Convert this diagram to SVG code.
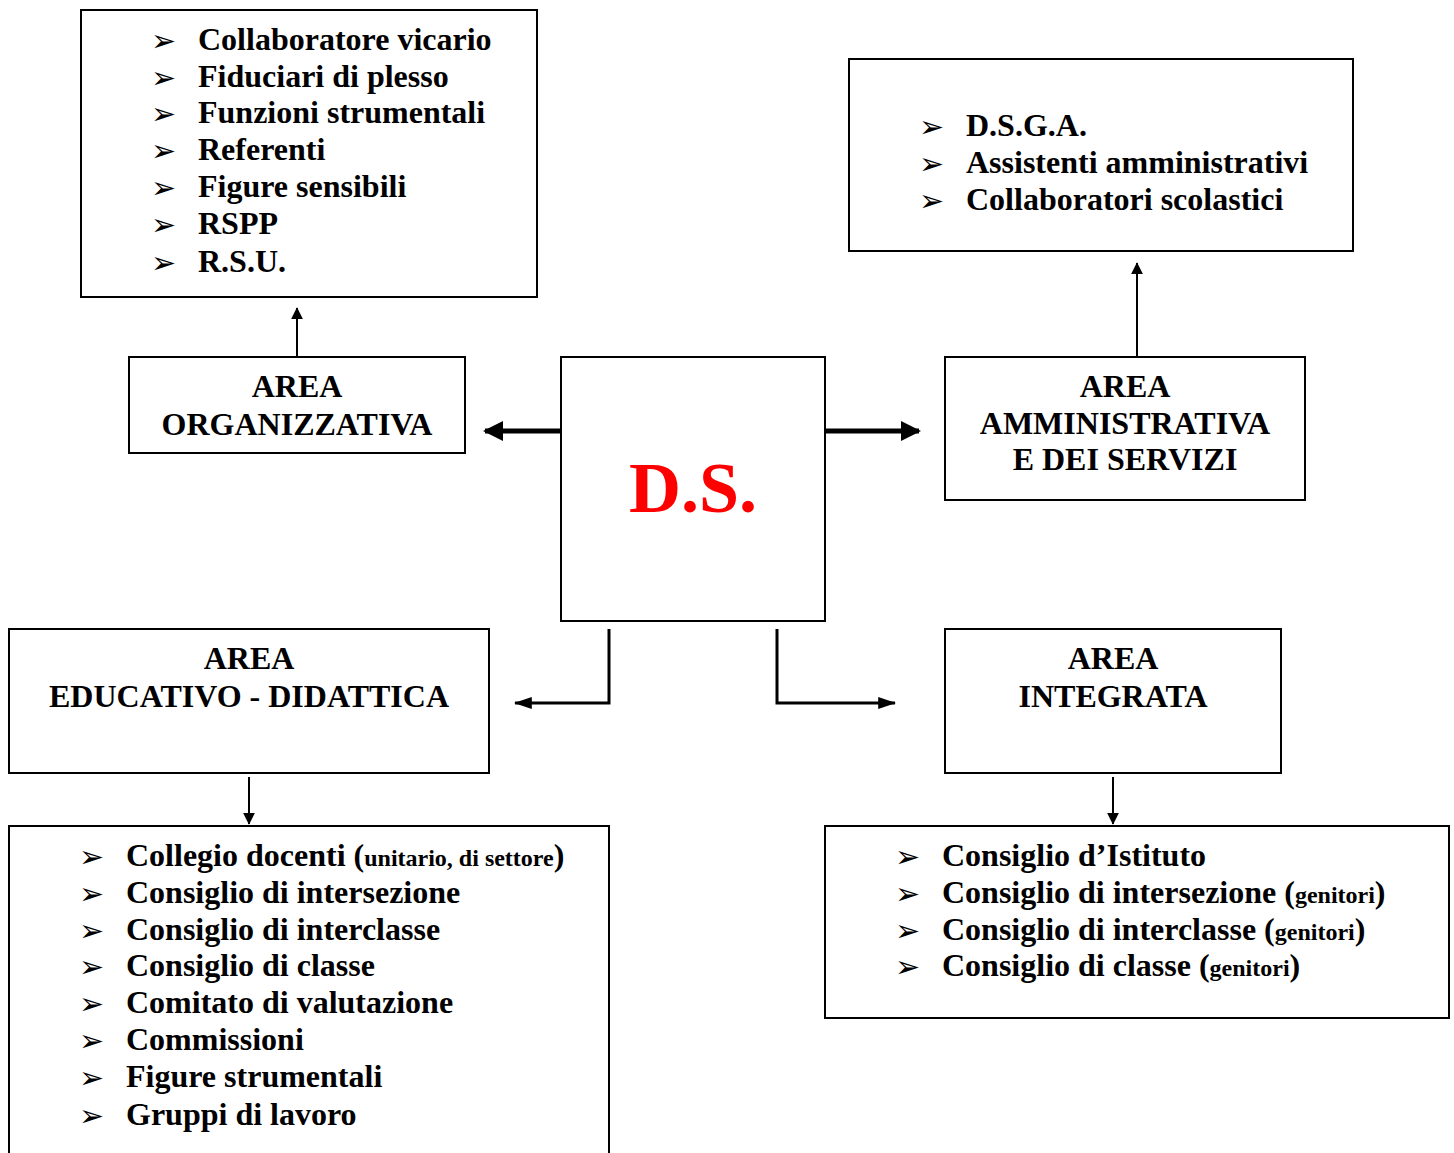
<svg xmlns="http://www.w3.org/2000/svg" width="1454" height="1153" viewBox="0 0 1454 1153">
<style>
.box{fill:#fff;stroke:#000;stroke-width:2}
.t{font-family:"Liberation Serif","Times New Roman",serif;font-weight:bold;font-size:32px;fill:#000}
.c{text-anchor:middle}
.b{font-family:"DejaVu Sans",sans-serif;font-size:30px;fill:#000}
.s{font-size:24px}
.ds{font-family:"Liberation Serif","Times New Roman",serif;font-weight:bold;font-size:72px;fill:#ff0000;text-anchor:middle}
.thick{stroke:#000;stroke-width:5;fill:none}
.mid{stroke:#000;stroke-width:3;fill:none}
.thin{stroke:#000;stroke-width:2;fill:none}
</style>
<defs>
<marker id="ah" markerWidth="4" markerHeight="4" refX="3.6" refY="2" orient="auto" markerUnits="strokeWidth" viewBox="0 0 4 4"><path d="M0,0 L4,2 L0,4 Z" fill="#000"/></marker>
<marker id="ahm" markerWidth="6" markerHeight="4" refX="5.6" refY="2" orient="auto" markerUnits="strokeWidth" viewBox="0 0 6 4"><path d="M0,0 L6,2 L0,4 Z" fill="#000"/></marker>
<marker id="aht" markerWidth="6" markerHeight="6" refX="5.6" refY="3" orient="auto" markerUnits="strokeWidth" viewBox="0 0 6 6"><path d="M0,0 L6,3 L0,6 Z" fill="#000"/></marker>
</defs>

<g id="connectors">
<line class="thin" x1="297" y1="356" x2="297" y2="308" marker-end="url(#aht)"/>
<line class="thin" x1="1137" y1="356" x2="1137" y2="263" marker-end="url(#aht)"/>
<line class="thick" x1="561" y1="431" x2="485" y2="431" marker-end="url(#ah)"/>
<line class="thick" x1="825" y1="431" x2="919" y2="431" marker-end="url(#ah)"/>
<polyline class="mid" points="609,629 609,703 515,703" marker-end="url(#ahm)"/>
<polyline class="mid" points="777,629 777,703 895,703" marker-end="url(#ahm)"/>
<line class="thin" x1="249" y1="777" x2="249" y2="824" marker-end="url(#aht)"/>
<line class="thin" x1="1113" y1="777" x2="1113" y2="824" marker-end="url(#aht)"/>
</g>

<g id="organizzativa-list">
<rect class="box" x="81" y="10" width="456" height="287"/>
<text class="b" x="151" y="51">➢</text><text class="t" x="198" y="50">Collaboratore vicario</text>
<text class="b" x="151" y="88">➢</text><text class="t" x="198" y="87">Fiduciari di plesso</text>
<text class="b" x="151" y="124">➢</text><text class="t" x="198" y="123">Funzioni strumentali</text>
<text class="b" x="151" y="161">➢</text><text class="t" x="198" y="160">Referenti</text>
<text class="b" x="151" y="198">➢</text><text class="t" x="198" y="197">Figure sensibili</text>
<text class="b" x="151" y="235">➢</text><text class="t" x="198" y="234">RSPP</text>
<text class="b" x="151" y="273">➢</text><text class="t" x="198" y="272">R.S.U.</text>
</g>

<g id="amministrativa-list">
<rect class="box" x="849" y="59" width="504" height="192"/>
<text class="b" x="919" y="137">➢</text><text class="t" x="966" y="136">D.S.G.A.</text>
<text class="b" x="919" y="174">➢</text><text class="t" x="966" y="173">Assistenti amministrativi</text>
<text class="b" x="919" y="211">➢</text><text class="t" x="966" y="210">Collaboratori scolastici</text>
</g>

<g id="area-organizzativa">
<rect class="box" x="129" y="357" width="336" height="96"/>
<text class="t c" x="297" y="397">AREA</text>
<text class="t c" x="297" y="435">ORGANIZZATIVA</text>
</g>

<g id="ds">
<rect class="box" x="561" y="357" width="264" height="264"/>
<text class="ds" x="693" y="512">D.S.</text>
</g>

<g id="area-amministrativa">
<rect class="box" x="945" y="357" width="360" height="143"/>
<text class="t c" x="1125" y="397">AREA</text>
<text class="t c" x="1125" y="434">AMMINISTRATIVA</text>
<text class="t c" x="1125" y="470">E DEI SERVIZI</text>
</g>

<g id="area-educativo">
<rect class="box" x="9" y="629" width="480" height="144"/>
<text class="t c" x="249" y="669">AREA</text>
<text class="t c" x="249" y="707">EDUCATIVO - DIDATTICA</text>
</g>

<g id="area-integrata">
<rect class="box" x="945" y="629" width="336" height="144"/>
<text class="t c" x="1113" y="669">AREA</text>
<text class="t c" x="1113" y="707">INTEGRATA</text>
</g>

<g id="educativo-list">
<rect class="box" x="9" y="826" width="600" height="340"/>
<text class="b" x="79" y="867">➢</text><text class="t" x="126" y="866">Collegio docenti (<tspan class="s">unitario, di settore</tspan>)</text>
<text class="b" x="79" y="904">➢</text><text class="t" x="126" y="903">Consiglio di intersezione</text>
<text class="b" x="79" y="941">➢</text><text class="t" x="126" y="940">Consiglio di interclasse</text>
<text class="b" x="79" y="977">➢</text><text class="t" x="126" y="976">Consiglio di classe</text>
<text class="b" x="79" y="1014">➢</text><text class="t" x="126" y="1013">Comitato di valutazione</text>
<text class="b" x="79" y="1051">➢</text><text class="t" x="126" y="1050">Commissioni</text>
<text class="b" x="79" y="1088">➢</text><text class="t" x="126" y="1087">Figure strumentali</text>
<text class="b" x="79" y="1126">➢</text><text class="t" x="126" y="1125">Gruppi di lavoro</text>
</g>

<g id="integrata-list">
<rect class="box" x="825" y="826" width="624" height="192"/>
<text class="b" x="895" y="867">➢</text><text class="t" x="942" y="866">Consiglio d’Istituto</text>
<text class="b" x="895" y="904">➢</text><text class="t" x="942" y="903">Consiglio di intersezione (<tspan class="s">genitori</tspan>)</text>
<text class="b" x="895" y="941">➢</text><text class="t" x="942" y="940">Consiglio di interclasse (<tspan class="s">genitori</tspan>)</text>
<text class="b" x="895" y="977">➢</text><text class="t" x="942" y="976">Consiglio di classe (<tspan class="s">genitori</tspan>)</text>
</g>
</svg>
